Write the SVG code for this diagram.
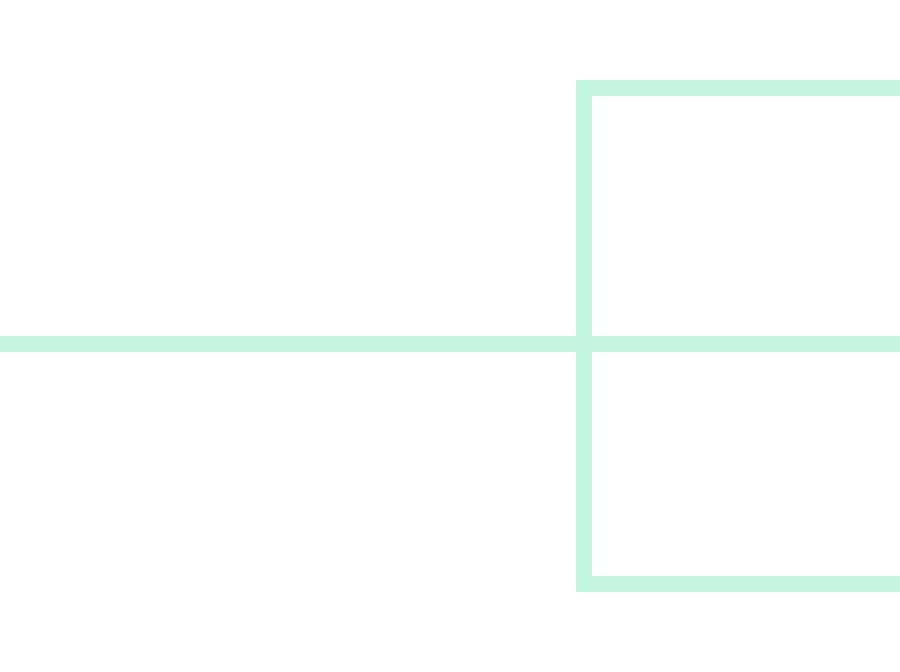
<svg xmlns="http://www.w3.org/2000/svg" width="900" height="672" viewBox="0 0 900 672">
<style>.w{fill:none;stroke:#c3f5e2;stroke-width:16;stroke-linecap:butt;stroke-linejoin:miter}</style>
<rect width="900" height="672" fill="#ffffff"/>
<g id="connectors">
<path class="w" d="M0 344H900"/>
<path class="w" d="M908 88H584V584H908"/>
</g>
</svg>
